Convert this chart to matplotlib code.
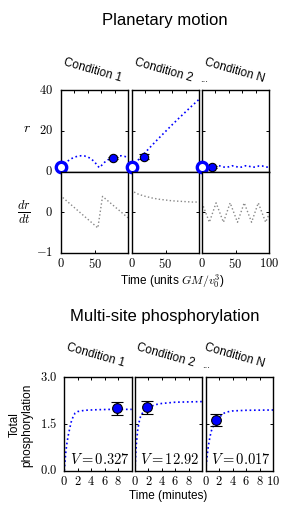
import numpy as np
import matplotlib
matplotlib.use('Agg')
import matplotlib.pyplot as plt

# figure size in pixels
W, H = 291, 518

plt.rcParams['mathtext.fontset'] = 'cm'
plt.rcParams['font.family'] = ['Liberation Sans', 'DejaVu Sans']

# ---- planetary motion data ----
r_t1 = [0, 5, 10, 15, 20, 25, 30, 35, 40, 45, 50, 55, 57, 60, 65, 70, 75, 80, 85, 90, 95, 100]
r_v1 = [2.4, 3.8, 5.2, 6.3, 7.1, 7.6, 7.8, 7.7, 7.2, 6.3, 4.8, 2.8, 2.0, 2.9, 4.6, 5.8, 6.7, 7.3, 7.7, 7.8, 7.5, 6.9]
r_t2 = [0, 10, 20, 30, 40, 50, 60, 70, 80, 90, 100]
r_v2 = [2.4, 6.0, 9.5, 13.0, 16.4, 19.7, 23.0, 26.2, 29.3, 32.4, 35.4]
r_t3 = [0, 5, 10, 15, 20, 25, 30, 35, 40, 45, 50, 55, 60, 65, 70, 75, 80, 85, 90, 95, 100]
r_v3 = [2.4, 2.8, 2.2, 2.0, 2.6, 3.0, 2.5, 2.1, 2.4, 2.9, 2.6, 2.1, 2.3, 2.9, 2.7, 2.2, 2.3, 2.8, 2.8, 2.3, 2.2]

d_t1 = [0, 2, 55, 62, 100]
d_v1 = [0.30, 0.37, -0.39, 0.39, -0.14]
d_t2 = [0, 2, 5, 10, 20, 30, 40, 50, 60, 70, 80, 90, 100]
d_v2 = [0.45, 0.51, 0.48, 0.44, 0.39, 0.35, 0.32, 0.30, 0.28, 0.27, 0.26, 0.25, 0.25]
d_t3 = [0, 11, 21, 32, 42, 53, 63, 74, 84, 95, 100]
d_v3 = [0.23, -0.25, 0.23, -0.25, 0.23, -0.25, 0.23, -0.25, 0.23, -0.25, -0.05]

r_obs_t = [77, 18, 15]
r_obs_v = [6.8, 7.3, 2.1]
r_obs_err = [0.6, 1.2, 0.5]

r_ticks = [0, 20, 40]
r_ticklabels = ['$0$', '$20$', '$40$']
d_ticks = [-1, 0]
d_ticklabels = ['$-1$', '$0$']

# ---- phosphorylation data ----
p_t1 = [0, 0.2, 0.4, 0.6, 0.8, 1.0, 1.3, 1.6, 2, 3, 5, 7, 10]
p_v1 = [0, 0.55, 0.9, 1.15, 1.35, 1.55, 1.73, 1.85, 1.9, 1.94, 1.96, 1.97, 1.97]
p_t2 = [0, 0.1, 0.2, 0.4, 0.6, 0.8, 1.0, 1.5, 2, 3, 4, 6, 8, 10]
p_v2 = [0, 0.5, 0.85, 1.3, 1.55, 1.72, 1.82, 1.95, 2.03, 2.12, 2.16, 2.2, 2.21, 2.22]
p_t3 = [0, 0.2, 0.4, 0.6, 0.8, 1.0, 1.3, 1.6, 2, 2.5, 3, 4, 6, 10]
p_v3 = [0, 0.45, 0.8, 1.05, 1.25, 1.38, 1.5, 1.58, 1.7, 1.82, 1.88, 1.92, 1.94, 1.95]

p_obs_t = [7.8, 1.8, 1.5]
p_obs_v = [2.0, 2.04, 1.63]
p_obs_err = [0.2, 0.21, 0.18]
v_labels = ['0.327', '12.92', '0.017']

p_yticks = [0, 1.5, 3.0]
p_yticklabels = ['$0.0$', '$1.5$', '$3.0$']

conditions = ['Condition 1', 'Condition 2', 'Condition N']

BLUE = '#0000ff'


def rect(x0, y0, x1, y1):
    return [x0 / W, 1 - y1 / H, (x1 - x0) / W, (y1 - y0) / H]


def style(ax, pad=3):
    for s in ax.spines.values():
        s.set_linewidth(1.0)
    ax.tick_params(direction='in', length=2.5, width=0.7, top=True, right=True,
                   labelsize=9, pad=pad)


def ylabels(ax, ticks, labels, gap):
    # y tick labels drawn at figure level, placed on the axis' data scale
    ax.set_yticks(ticks, [''] * len(ticks))
    tr = ax.get_yaxis_transform()
    dx = gap / (ax.get_position().width * W)
    for t, lab in zip(ticks, labels):
        fig.text(-dx, t, lab, transform=tr, ha='right', va='center',
                 fontsize=9, color='black', zorder=10)


fig = plt.figure(figsize=(W / 100, H / 100), dpi=100)

# ---------------- Planetary motion ----------------
top_x = [(61, 128), (132, 199), (202, 269)]
r_data = [(r_t1, r_v1), (r_t2, r_v2), (r_t3, r_v3)]
d_data = [(d_t1, d_v1), (d_t2, d_v2), (d_t3, d_v3)]

for i, (x0, x1) in enumerate(top_x):
    ax_r = fig.add_axes(rect(x0, 90, x1, 171.7))
    ax_d = fig.add_axes(rect(x0, 171.7, x1, 252.6))
    style(ax_r)
    style(ax_d)

    t, v = r_data[i]
    ax_r.plot(t, v, ':', color=BLUE, lw=1.2)
    ax_r.plot([0], [r_v1[0]], 'o', ms=7.5, mfc='white', mec=BLUE, mew=2.4,
              clip_on=False, zorder=5)
    ax_r.errorbar([r_obs_t[i]], [r_obs_v[i]], yerr=[r_obs_err[i]], fmt='o',
                  ms=6, mfc=BLUE, mec='black', mew=0.8, ecolor='black',
                  elinewidth=1.0, capsize=3.5, capthick=1.0, zorder=4)
    ax_r.set_xlim(0, 100)
    ax_r.set_ylim(0, 40)
    ax_r.set_xticks([20, 40, 60, 80])
    ax_r.tick_params(axis='x', bottom=False, labelbottom=False)

    t, v = d_data[i]
    ax_d.plot(t, v, ':', color='#888888', lw=1.0)
    ax_d.set_xlim(0, 100)
    ax_d.set_ylim(-1, 1)
    ax_d.tick_params(axis='x', top=False)
    if i == 2:
        ax_d.set_xticks([0, 50, 100], ['$0$', '$50$', '$100$'])
    else:
        ax_d.set_xticks([0, 50], ['$0$', '$50$'])

    if i == 0:
        ylabels(ax_r, r_ticks, r_ticklabels, 8)
        ylabels(ax_d, d_ticks, d_ticklabels, 8)
    else:
        ax_r.set_yticks(r_ticks, [''] * 3)
        ax_d.set_yticks(d_ticks, [''] * 2)

    fig.text((x0 + 2) / W, 1 - 65 / H, conditions[i], rotation=-16,
             rotation_mode='anchor', ha='left', va='baseline', fontsize=8.5)

fig.text(200 / W, 1 - 82 / H, '...', fontsize=7, ha='left', va='baseline')
fig.text(165 / W, 1 - 20 / H, 'Planetary motion', fontsize=12,
         ha='center', va='center')
fig.text(27 / W, 1 - 128 / H, '$r$', fontsize=10, ha='center', va='center')
fig.text(24 / W, 1 - 211.7 / H, r'$\frac{dr}{dt}$', fontsize=12.5,
         ha='center', va='center')
fig.text(172 / W, 1 - 281 / H, 'Time (units $GM/v_0^3$)', fontsize=8.5,
         ha='center', va='center')

# ---------------- Multi-site phosphorylation ----------------
bot_x = [(64.3, 131.7), (135, 202), (205.7, 273)]
p_data = [(p_t1, p_v1), (p_t2, p_v2), (p_t3, p_v3)]
cond_x = [65.7, 135.7, 204]

for i, (x0, x1) in enumerate(bot_x):
    ax = fig.add_axes(rect(x0, 377.3, x1, 470.7))
    style(ax)
    t, v = p_data[i]
    ax.plot(t, v, ':', color=BLUE, lw=1.2)
    ax.errorbar([p_obs_t[i]], [p_obs_v[i]], yerr=[p_obs_err[i]], fmt='o',
                ms=7, mfc=BLUE, mec='black', mew=0.8, ecolor='black',
                elinewidth=1.0, capsize=4, capthick=1.0, zorder=4)
    ax.set_xlim(0, 10)
    ax.set_ylim(0, 3)
    if i == 2:
        ax.set_xticks([0, 2, 4, 6, 8, 10],
                      ['$0$', '$2$', '$4$', '$6$', '$8$', '$10$'])
    else:
        ax.set_xticks([0, 2, 4, 6, 8], ['$0$', '$2$', '$4$', '$6$', '$8$'])
    if i == 0:
        ylabels(ax, p_yticks, p_yticklabels, 6.5)
    else:
        ax.set_yticks(p_yticks, [''] * 3)
    ax.text(0.97, 0.04, '$V = %s$' % v_labels[i], transform=ax.transAxes,
            ha='right', va='bottom', fontsize=10.5)

    fig.text(cond_x[i] / W, 1 - 350 / H, conditions[i], rotation=-16,
             rotation_mode='anchor', ha='left', va='baseline', fontsize=8.5)

fig.text(201.7 / W, 1 - 368 / H, '...', fontsize=7, ha='left', va='baseline')
fig.text(165 / W, 1 - 317 / H, 'Multi-site phosphorylation', fontsize=12,
         ha='center', va='center')
fig.text(21 / W, 1 - 425 / H, 'Total\nphosphorylation', fontsize=8.5,
         rotation=90, ha='center', va='center', linespacing=1.1)
fig.text(168 / W, 1 - 496 / H, 'Time (minutes)', fontsize=8.5,
         ha='center', va='center')

fig.savefig('out.png', dpi=100)
